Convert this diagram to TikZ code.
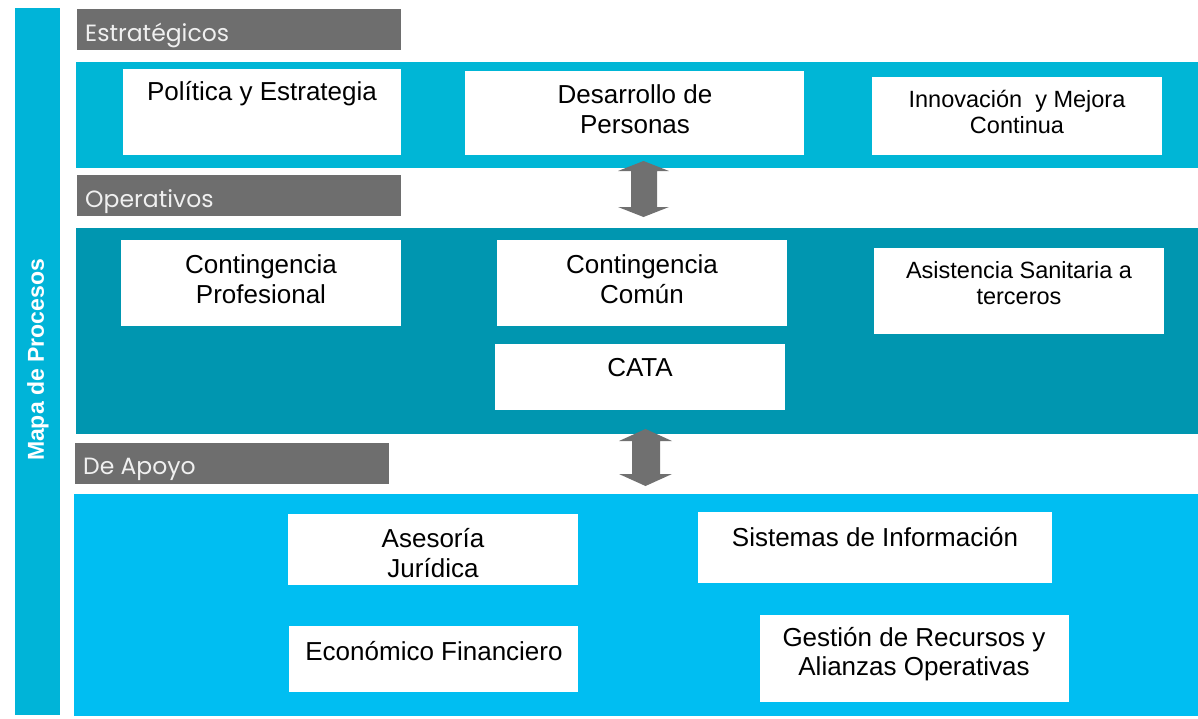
\documentclass[tikz,border=0pt]{standalone}
\usepackage{fontspec}
\setmainfont{Liberation Sans}
\newfontfamily\hdr{Poppins}
\definecolor{barC}{RGB}{0,180,216}
\definecolor{estC}{RGB}{0,182,214}
\definecolor{opeC}{RGB}{0,150,176}
\definecolor{apoC}{RGB}{0,190,242}
\definecolor{hdrC}{RGB}{110,110,110}
\definecolor{hdrT}{RGB}{240,240,240}
\definecolor{arrC}{RGB}{112,112,112}
\begin{document}
\begin{tikzpicture}[x=1pt,y=-1pt,
  band/.style={draw=none,inner sep=0},
  wbox/.style={fill=white,draw=none},
  hdrbox/.style={fill=hdrC,draw=none},
  hdrtext/.style={font=\hdr\fontsize{23.5}{26}\selectfont,text=hdrT,anchor=west,inner sep=0},
  btext/.style={font=\fontsize{26}{29.5}\selectfont,align=center,inner sep=0},
  stext/.style={font=\fontsize{23.5}{26}\selectfont,align=center,inner sep=0},
  dblarrow/.style={fill=arrC,draw=none}]
\useasboundingbox (0,0) rectangle (1198,718);
% left bar
\fill[barC] (15,8) rectangle (60,715);
\node[rotate=90,font=\bfseries\fontsize{23}{26}\selectfont,text=white,inner sep=0] (mapa) at (38,360) {Mapa de Procesos};
% headers
\fill[hdrbox] (77,9) rectangle (401,50);
\node[hdrtext] (hEst) at (85,35.5) {Estratégicos};
\fill[hdrbox] (77,175) rectangle (401,216);
\node[hdrtext] (hOpe) at (85,201.5) {Operativos};
\fill[hdrbox] (75,443) rectangle (389,484);
\node[hdrtext] (hApo) at (83,469.5) {De Apoyo};
% bands
\fill[estC] (76,62) rectangle (1198,168);
\fill[opeC] (76,228) rectangle (1198,434);
\fill[apoC] (74,494) rectangle (1198,716);
% estrategicos boxes
\fill[wbox] (123,69) rectangle (401,155);
\node[btext] (pol) at (262,94) {Política y Estrategia};
\fill[wbox] (465,71) rectangle (804,155);
\node[btext] (des) at (635,109) {Desarrollo de\\Personas};
\fill[wbox] (872,77) rectangle (1162,155);
\node[stext] (inn) at (1017,112) {Innovación~ y Mejora\\Continua};
% operativos boxes
\fill[wbox] (121,240) rectangle (401,326);
\node[btext] (cprof) at (261,279) {Contingencia\\Profesional};
\fill[wbox] (497,240) rectangle (787,326);
\node[btext] (ccom) at (642,279) {Contingencia\\Común};
\fill[wbox] (874,248) rectangle (1164,334);
\node[stext] (asis) at (1019,283) {Asistencia Sanitaria a\\terceros};
\fill[wbox] (495,344) rectangle (785,410);
\node[btext] (cata) at (640,368) {CATA};
% apoyo boxes
\fill[wbox] (288,514) rectangle (578,585);
\node[btext] (ases) at (433,553) {Asesoría\\Jurídica};
\fill[wbox] (698,512) rectangle (1052,583);
\node[btext] (sis) at (875,537) {Sistemas de Información};
\fill[wbox] (289,626) rectangle (578,692);
\node[btext] (eco) at (434,651) {Económico Financiero};
\fill[wbox] (760,615) rectangle (1069,702);
\node[btext] (ges) at (914,654) {Gestión de Recursos y\\Alianzas Operativas};
% double arrows
\fill[dblarrow] (643.5,161) -- (669,171) -- (657,171) -- (657,207) -- (669,207) -- (643.5,217) -- (618,207) -- (631,207) -- (631,171) -- (618,171) -- cycle;
\fill[dblarrow] (645.5,429) -- (672,441) -- (660,441) -- (660,474) -- (672,474) -- (645.5,486) -- (619,474) -- (632,474) -- (632,441) -- (619,441) -- cycle;
\end{tikzpicture}
\end{document}
